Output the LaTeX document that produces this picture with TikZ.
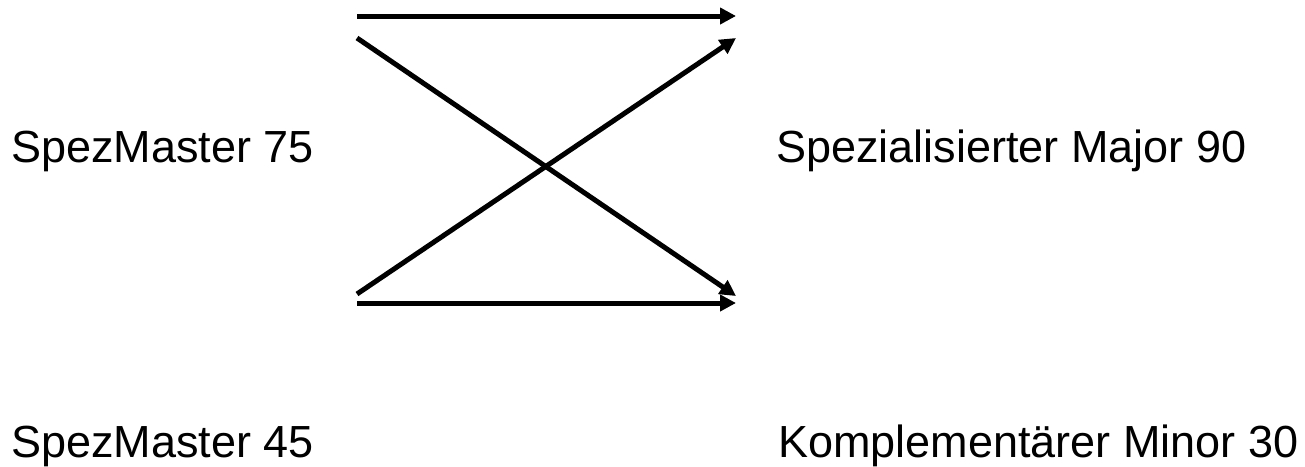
\documentclass[tikz,border=0pt]{standalone}
\usepackage{fontspec}
\setmainfont{Liberation Sans}
\usetikzlibrary{arrows.meta}
\tikzset{
  lbl/.style={anchor=base west, inner sep=0pt, font=\fontsize{45}{52}\selectfont},
  arr/.style={line width=5pt, -{Triangle[length=16pt,width=16pt]}}
}
\begin{document}
\begin{tikzpicture}[x=1pt,y=-1pt]
\useasboundingbox (0,0) rectangle (1305,466);
\node[lbl] (m75) at (11,162) {SpezMaster 75};
\node[lbl] (maj) at (776,162) {Spezialisierter Major 90};
\node[lbl] (m45) at (11,457) {SpezMaster 45};
\node[lbl] (min) at (778,457) {Komplementärer Minor 30};
\coordinate (a1) at (357,16);
\coordinate (b1) at (736,16);
\coordinate (a2) at (357,38);
\coordinate (b2) at (736,296);
\coordinate (a3) at (357,294);
\coordinate (b3) at (736,38);
\coordinate (a4) at (357,303);
\coordinate (b4) at (736,303);
\draw[arr] (a1) -- (b1);
\draw[arr] (a2) -- (b2);
\draw[arr] (a3) -- (b3);
\draw[arr] (a4) -- (b4);
\end{tikzpicture}
\end{document}
